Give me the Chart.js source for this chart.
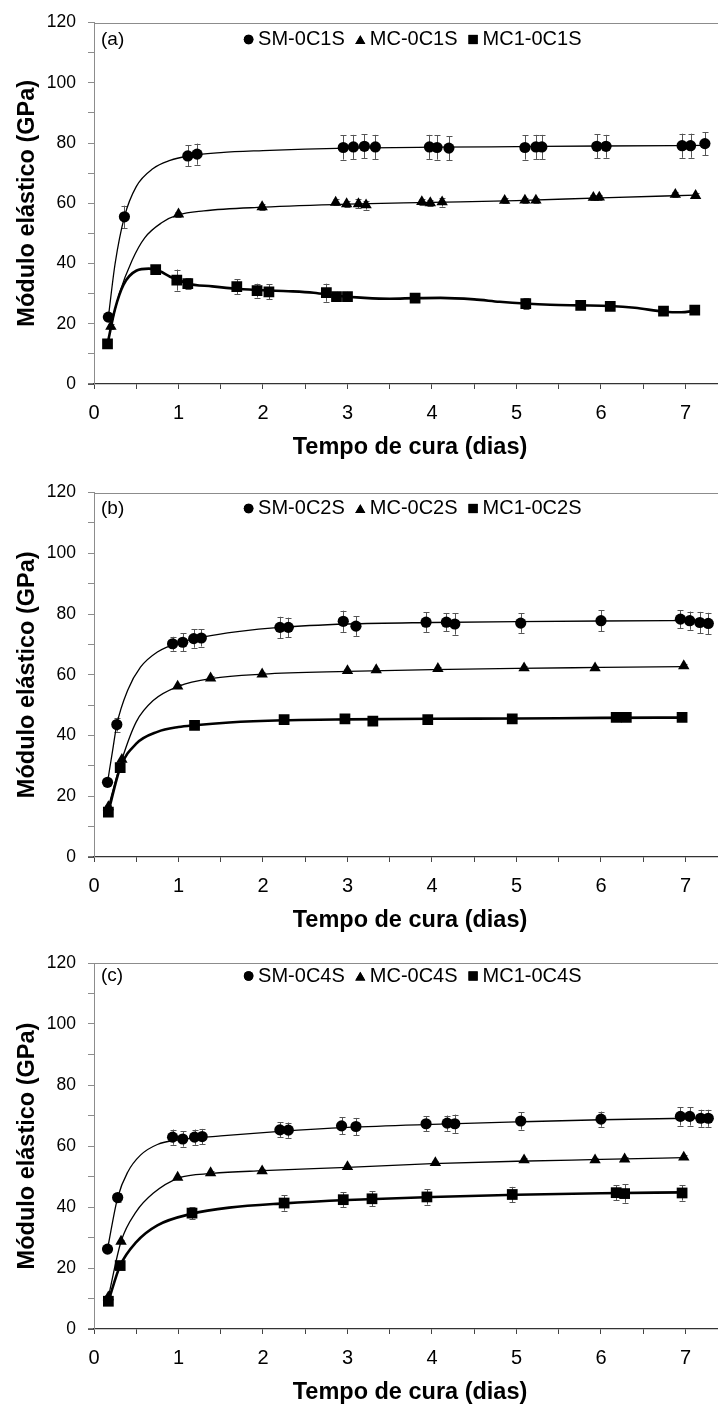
<!DOCTYPE html>
<html>
<head>
<meta charset="utf-8">
<script src="https://cdn.jsdelivr.net/npm/chart.js@4.4.0/dist/chart.umd.min.js"></script>
<style>
  html, body { margin: 0; padding: 0; background: #fff; width: 718px; height: 1407px; overflow: hidden; }
  .panel { position: absolute; left: 0; width: 718px; }
  canvas { display: block; }
</style>
</head>
<body>
<div class="panel" style="top:0px"><canvas id="panelA" width="718" height="470"></canvas></div>
<div class="panel" style="top:470px"><canvas id="panelB" width="718" height="470"></canvas></div>
<div class="panel" style="top:940px"><canvas id="panelC" width="718" height="467"></canvas></div>
<script>
// ---------- labels ----------
const xTitle = 'Tempo de cura (dias)';
const yTitle = 'Módulo elástico (GPa)';
const xTickLabels = ['0', '1', '2', '3', '4', '5', '6', '7'];
const yTickLabels = ['0', '20', '40', '60', '80', '100', '120'];
const seriesNamesA = ['SM-0C1S', 'MC-0C1S', 'MC1-0C1S'];
const seriesNamesB = ['SM-0C2S', 'MC-0C2S', 'MC1-0C2S'];
const seriesNamesC = ['SM-0C4S', 'MC-0C4S', 'MC1-0C4S'];

// ---------- panel (a) : 1% ----------
const smDaysA = [0.17, 0.36, 1.11, 1.22, 2.95, 3.07, 3.2, 3.33, 3.97, 4.06, 4.2, 5.1, 5.23, 5.3, 5.95, 6.06, 6.96, 7.06, 7.23];
const smValsA = [22.2, 55.5, 75.7, 76.3, 78.5, 78.7, 78.9, 78.7, 78.7, 78.5, 78.3, 78.5, 78.7, 78.7, 78.9, 78.9, 79.1, 79.1, 79.8];
const smErrA  = [1.0, 3.7, 3.5, 3.5, 4.0, 4.0, 4.0, 4.0, 4.0, 4.0, 4.0, 4.0, 4.0, 4.0, 4.0, 3.8, 4.0, 4.0, 3.8];
const mcDaysA = [0.2, 1.0, 1.99, 2.86, 2.99, 3.13, 3.22, 3.88, 3.98, 4.12, 4.86, 5.1, 5.23, 5.91, 5.98, 6.88, 7.12];
const mcValsA = [19.1, 56.4, 58.8, 60.3, 59.8, 59.8, 59.4, 60.5, 60.1, 60.4, 60.9, 61.0, 61.0, 61.9, 62.0, 62.9, 62.5];
const mcErrA  = [0.8, 0.8, 1.0, 1.0, 1.0, 1.5, 1.5, 1.0, 1.0, 1.5, 0.8, 0.8, 0.8, 0.8, 0.8, 0.8, 0.8];
const mc1DaysA = [0.16, 0.73, 0.98, 1.11, 1.69, 1.93, 2.07, 2.75, 2.87, 3.0, 3.8, 5.11, 5.76, 6.11, 6.74, 7.11];
const mc1ValsA = [13.3, 38.0, 34.5, 33.3, 32.3, 31.0, 30.6, 30.3, 29.0, 29.0, 28.5, 26.7, 26.1, 25.8, 24.2, 24.5];
const mc1ErrA  = [0.5, 1.0, 3.5, 1.8, 2.5, 2.3, 2.5, 3.0, 1.6, 1.6, 0.8, 1.8, 0.8, 0.8, 0.8, 0.8];
// trend lines
const smCurveA = [[0.17, 22.2], [0.25, 40], [0.36, 55.5], [0.5, 65.5], [0.7, 71.5], [0.9, 74.2], [1.1, 75.6], [1.5, 76.8], [2, 77.5], [2.5, 78], [3, 78.3], [4, 78.6], [5, 78.8], [6, 79], [7.23, 79.2]];
const mcCurveA = [[0.2, 19.1], [0.3, 30], [0.45, 41], [0.6, 48.5], [0.8, 53.5], [1.0, 56.2], [1.3, 57.5], [2, 58.7], [3, 59.7], [4, 60.3], [5, 60.9], [6, 61.8], [7.12, 62.7]];
const mc1CurveA = [[0.16, 13.3], [0.25, 25], [0.35, 33], [0.5, 37.6], [0.65, 38.3], [0.78, 37.4], [0.9, 35.6], [1.0, 34.6], [1.1, 33.4], [1.4, 32.4], [1.7, 31.6], [2.0, 31.1], [2.3, 30.8], [2.6, 30.3], [2.9, 29.2], [3.2, 28.6], [3.5, 28.3], [3.8, 28.5], [4.1, 28.6], [4.5, 28.1], [4.8, 27.3], [5.1, 26.7], [5.4, 26.3], [5.76, 26.1], [6.1, 25.9], [6.4, 25.3], [6.75, 24.0], [6.95, 23.8], [7.11, 24.3]];

// ---------- panel (b) : 2% ----------
const smDaysB = [0.16, 0.27, 0.93, 1.05, 1.18, 1.27, 2.2, 2.3, 2.95, 3.1, 3.93, 4.17, 4.27, 5.05, 6.0, 6.94, 7.05, 7.17, 7.27];
const smValsB = [24.6, 43.6, 70.2, 70.7, 71.9, 72.1, 75.6, 75.6, 77.6, 76.0, 77.3, 77.3, 76.7, 77.0, 77.8, 78.3, 77.8, 77.2, 76.9];
const smErrB  = [0.8, 2.3, 2.3, 3.0, 3.0, 2.8, 3.5, 3.2, 3.5, 3.2, 3.2, 3.0, 3.5, 3.2, 3.5, 3.0, 3.0, 3.5, 3.5];
const mcDaysB = [0.17, 0.33, 0.99, 1.38, 1.99, 3.0, 3.34, 4.07, 5.09, 5.93, 6.98];
const mcValsB = [16.5, 32.1, 56.2, 58.9, 60.2, 61.3, 61.6, 62.0, 62.2, 62.2, 62.9];
const mcErrB  = [0.6, 0.6, 0.6, 0.6, 0.6, 0.6, 0.6, 0.6, 0.6, 0.6, 0.6];
const mc1DaysB = [0.17, 0.31, 1.19, 2.25, 2.97, 3.3, 3.95, 4.95, 6.18, 6.3, 6.96];
const mc1ValsB = [14.8, 29.4, 43.3, 45.2, 45.5, 44.7, 45.2, 45.5, 46.0, 46.0, 46.0];
const mc1ErrB  = [0.5, 0.5, 0.5, 0.5, 0.5, 0.5, 0.5, 0.5, 0.5, 0.5, 0.5];
const smCurveB = [[0.16, 24.6], [0.22, 35], [0.27, 43.6], [0.4, 55], [0.55, 62.5], [0.75, 67.5], [1.0, 70.5], [1.3, 72.5], [1.7, 74.2], [2.2, 75.6], [3, 76.7], [4, 77.2], [5, 77.5], [6, 77.7], [7.27, 77.9]];
const mcCurveB = [[0.17, 16.5], [0.33, 32.1], [0.5, 44.5], [0.7, 51.5], [1.0, 56.2], [1.4, 58.8], [2, 60.2], [3, 61.1], [4, 61.7], [5, 62.1], [6, 62.4], [6.98, 62.7]];
const mc1CurveB = [[0.17, 14.8], [0.31, 29.4], [0.5, 37.3], [0.75, 41.2], [1.0, 42.8], [1.19, 43.4], [1.6, 44.3], [2.25, 45.0], [3, 45.3], [4, 45.5], [5, 45.6], [6, 45.8], [6.96, 45.9]];

// ---------- panel (c) : 4% ----------
const smDaysC = [0.16, 0.28, 0.93, 1.05, 1.19, 1.28, 2.2, 2.3, 2.93, 3.1, 3.93, 4.18, 4.27, 5.05, 6.0, 6.94, 7.05, 7.18, 7.27];
const smValsC = [26.2, 43.1, 62.9, 62.3, 62.9, 63.1, 65.3, 65.2, 66.6, 66.4, 67.3, 67.5, 67.3, 68.2, 68.8, 69.7, 69.7, 69.1, 69.1];
const smErrC  = [0.8, 1.5, 2.5, 2.5, 2.5, 2.5, 2.5, 2.5, 2.8, 2.8, 2.5, 2.5, 3.0, 2.8, 2.5, 3.0, 3.0, 2.8, 2.8];
const mcDaysC = [0.17, 0.32, 0.99, 1.38, 1.99, 3.0, 4.04, 5.09, 5.93, 6.28, 6.98];
const mcValsC = [10.5, 28.7, 49.7, 51.2, 51.8, 53.2, 54.5, 55.4, 55.4, 55.7, 56.3];
const mcErrC  = [0.6, 0.6, 0.6, 0.6, 0.6, 0.6, 0.6, 0.6, 0.6, 0.6, 0.6];
const mc1DaysC = [0.17, 0.31, 1.16, 2.25, 2.95, 3.29, 3.94, 4.95, 6.18, 6.28, 6.96];
const mc1ValsC = [9.1, 20.8, 38.0, 41.3, 42.4, 42.7, 43.3, 44.1, 44.7, 44.4, 44.6];
const mc1ErrC  = [0.5, 1.0, 2.0, 2.5, 2.5, 2.5, 2.5, 2.5, 2.5, 3.0, 2.5];
const smCurveC = [[0.16, 26.2], [0.28, 43.1], [0.4, 51.5], [0.55, 57], [0.75, 60.5], [1.0, 62], [1.5, 63.3], [2.2, 64.8], [3, 66.1], [4, 67.1], [5, 67.9], [6, 68.6], [7.27, 69.2]];
const mcCurveC = [[0.17, 10.5], [0.32, 28.7], [0.5, 38.5], [0.7, 44.5], [1.0, 49.5], [1.4, 51], [2, 51.9], [3, 53], [4, 54.2], [5, 55], [6, 55.6], [6.98, 56.2]];
const mc1CurveC = [[0.17, 9.1], [0.31, 20.8], [0.5, 28.5], [0.75, 34], [1.16, 37.8], [1.6, 39.8], [2.25, 41.2], [3, 42.3], [4, 43.3], [5, 44], [6, 44.5], [6.96, 44.8]];

// ---------- drawing helpers ----------
const FONT = '"Liberation Sans", Arial, Helvetica, sans-serif';

// vertical error bars with caps, drawn beneath the markers
const errorBars = {
  id: 'errorBars',
  beforeDatasetsDraw(chart) {
    const { ctx } = chart;
    const xs = chart.scales.x, ys = chart.scales.y;
    ctx.save();
    ctx.strokeStyle = '#555';
    ctx.lineWidth = 1;
    chart.data.datasets.forEach((ds) => {
      if (!ds.errors) return;
      ds.data.forEach((p, j) => {
        const e = ds.errors[j];
        const x = Math.round(xs.getPixelForValue(p.x)) + 0.5;
        const y1 = ys.getPixelForValue(p.y - e);
        const y2 = ys.getPixelForValue(p.y + e);
        ctx.beginPath();
        ctx.moveTo(x, y1); ctx.lineTo(x, y2);
        ctx.moveTo(x - 3, Math.round(y1) + 0.5); ctx.lineTo(x + 3, Math.round(y1) + 0.5);
        ctx.moveTo(x - 3, Math.round(y2) + 0.5); ctx.lineTo(x + 3, Math.round(y2) + 0.5);
        ctx.stroke();
      });
    });
    ctx.restore();
  }
};

// frame top line, panel tag, in-plot legend and axis titles
const panelText = {
  id: 'panelText',
  afterDraw(chart, args, o) {
    const { ctx, chartArea: a } = chart;
    ctx.save();
    ctx.strokeStyle = '#8c8c8c';
    ctx.lineWidth = 1;
    ctx.beginPath();
    ctx.moveTo(a.left, Math.round(a.top) + 0.5);
    ctx.lineTo(a.right, Math.round(a.top) + 0.5);
    ctx.stroke();

    // the x axis line carries on a few pixels left of the y axis
    ctx.strokeStyle = '#333';
    ctx.lineWidth = 1.3;
    ctx.beginPath();
    ctx.moveTo(a.left - 6, a.bottom);
    ctx.lineTo(a.left, a.bottom);
    ctx.stroke();

    ctx.fillStyle = '#000';
    ctx.textBaseline = 'middle';
    ctx.textAlign = 'left';
    const ly = a.top + o.legendDy;
    ctx.font = '19px ' + FONT;
    ctx.fillText(o.tag, 101, ly);

    ctx.font = '20px ' + FONT;
    let cx = o.legendX;
    chart.data.datasets.forEach((ds) => {
      if (ds.isCurve) return;
      const r = ds.pointStyle === 'rect' ? 6.5 : (ds.pointStyle === 'triangle' ? 5.8 : 4.8);
      const my = ds.pointStyle === 'triangle' ? ly + 1.5 : ly;
      ctx.fillStyle = '#000';
      ctx.strokeStyle = '#000';
      Chart.helpers.drawPoint(ctx, { pointStyle: ds.pointStyle, radius: r, rotation: 0, borderWidth: 0 }, cx, my);
      ctx.fill();
      ctx.fillText(ds.label, cx + 9.5, ly);
      cx += 9.5 + ctx.measureText(ds.label).width + 15.5;
    });

    ctx.font = 'bold 23.5px ' + FONT;
    ctx.textAlign = 'center';
    ctx.fillText(xTitle, 410, a.bottom + 64);
    ctx.translate(28, (a.top + a.bottom) / 2);
    ctx.rotate(-Math.PI / 2);
    ctx.fillText(yTitle, 0, 0);
    ctx.restore();
  }
};

const toPoints = (xs, ys) => xs.map((x, i) => ({ x: x, y: ys[i] }));
const toCurve = (pairs) => pairs.map((p) => ({ x: p[0], y: p[1] }));

function markerSet(label, days, vals, errs, style, radius) {
  return {
    label: label,
    data: toPoints(days, vals),
    errors: errs,
    showLine: false,
    pointStyle: style,
    pointRadius: radius,
    pointBackgroundColor: '#000',
    pointBorderColor: '#000',
    pointBorderWidth: 0
  };
}

function curveSet(pairs, width) {
  return {
    label: '',
    isCurve: true,
    data: toCurve(pairs),
    showLine: true,
    pointRadius: 0,
    borderColor: '#000',
    borderWidth: width,
    cubicInterpolationMode: 'monotone',
    fill: false
  };
}

function buildPanel(id, tag, names, sm, mc, mc1, curves, geo) {
  const datasets = [
    markerSet(names[0], sm[0], sm[1], sm[2], 'circle', 5.6),
    markerSet(names[1], mc[0], mc[1], mc[2], 'triangle', 6.6),
    markerSet(names[2], mc1[0], mc1[1], mc1[2], 'rect', 7.6),
    curveSet(curves[0], 1.3),
    curveSet(curves[1], 1.3),
    curveSet(curves[2], 2.6)
  ];
  return new Chart(document.getElementById(id), {
    type: 'scatter',
    data: { datasets: datasets },
    options: {
      responsive: false,
      animation: false,
      devicePixelRatio: 1,
      events: [],
      layout: { autoPadding: false, padding: { top: geo.top, left: 0, right: 0, bottom: 0 } },
      plugins: {
        legend: { display: false },
        tooltip: { enabled: false },
        panelText: { tag: tag, legendDy: geo.legendDy, legendX: 248.6 }
      },
      scales: {
        x: {
          type: 'linear',
          min: 0,
          max: 7.385,
          afterFit: (s) => { s.height = geo.xAxisH; },
          ticks: {
            stepSize: 0.5,
            includeBounds: false,
            autoSkip: false,
            maxRotation: 0,
            padding: 12,
            color: '#000',
            font: { family: FONT, size: 20 },
            callback: (v) => (Number.isInteger(v) ? xTickLabels[v] : '')
          },
          grid: { drawOnChartArea: false, drawTicks: true, tickLength: 5, color: '#444', lineWidth: 1 },
          border: { color: '#333', width: 1.3 }
        },
        y: {
          type: 'linear',
          min: 0,
          max: 120,
          afterFit: (s) => { s.width = 94; },
          ticks: {
            stepSize: 10,
            padding: 12,
            color: '#000',
            font: { family: FONT, size: 17.5 },
            callback: (v) => (v % 20 === 0 ? yTickLabels[v / 20] : '')
          },
          grid: { drawOnChartArea: false, drawTicks: true, tickLength: 6, color: '#8c8c8c' },
          border: { color: '#8c8c8c', width: 1 }
        }
      }
    },
    plugins: [errorBars, panelText]
  });
}

buildPanel('panelA', '(a)', seriesNamesA,
  [smDaysA, smValsA, smErrA], [mcDaysA, mcValsA, mcErrA], [mc1DaysA, mc1ValsA, mc1ErrA],
  [smCurveA, mcCurveA, mc1CurveA],
  { top: 16, xAxisH: 86, legendDy: 17 });

buildPanel('panelB', '(b)', seriesNamesB,
  [smDaysB, smValsB, smErrB], [mcDaysB, mcValsB, mcErrB], [mc1DaysB, mc1ValsB, mc1ErrB],
  [smCurveB, mcCurveB, mc1CurveB],
  { top: 17, xAxisH: 83, legendDy: 16 });

buildPanel('panelC', '(c)', seriesNamesC,
  [smDaysC, smValsC, smErrC], [mcDaysC, mcValsC, mcErrC], [mc1DaysC, mc1ValsC, mc1ErrC],
  [smCurveC, mcCurveC, mc1CurveC],
  { top: 23, xAxisH: 78, legendDy: 13 });
</script>
</body>
</html>
